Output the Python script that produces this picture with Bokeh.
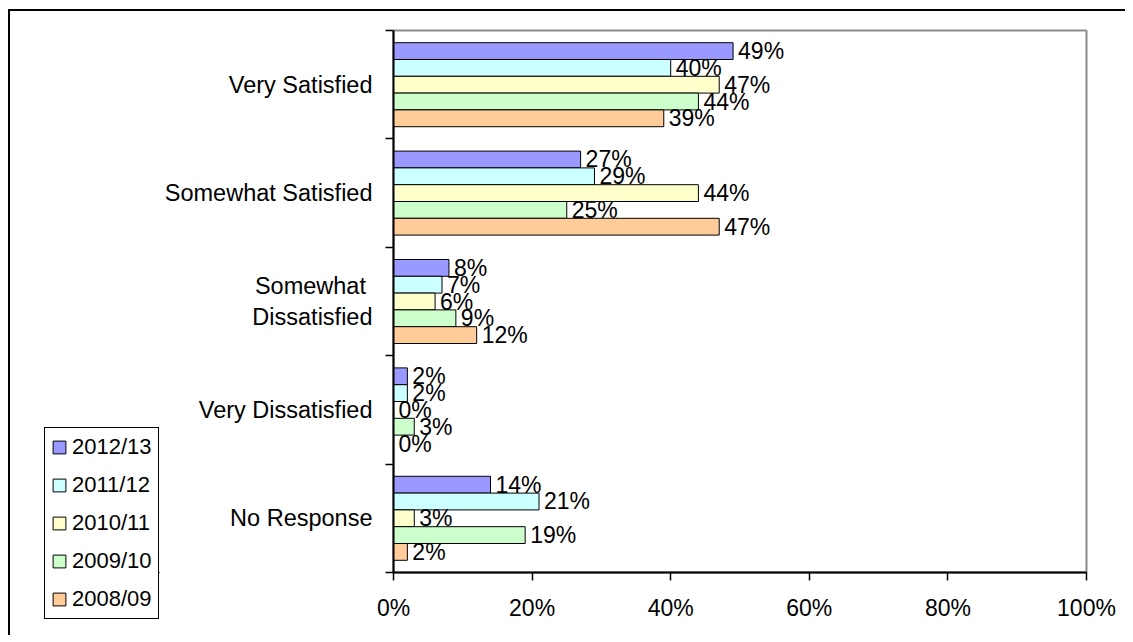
from bokeh.plotting import figure
from bokeh.layouts import row
from bokeh.embed import file_html
from bokeh.resources import INLINE
from bokeh.models import (ColumnDataSource, FixedTicker, PrintfTickFormatter,
                          Legend, LegendItem, Range1d)
from bokeh.core.properties import value

# ---- data ----
categories = ["Very Satisfied", "Somewhat Satisfied", "Somewhat \nDissatisfied",
              "Very Dissatisfied", "No Response"]
series = ["2012/13", "2011/12", "2010/11", "2009/10", "2008/09"]
v_2012_13 = [49, 27, 8, 2, 14]
v_2011_12 = [40, 29, 7, 2, 21]
v_2010_11 = [47, 44, 6, 0, 3]
v_2009_10 = [44, 25, 9, 3, 19]
v_2008_09 = [39, 47, 12, 0, 2]
values = [v_2012_13, v_2011_12, v_2010_11, v_2009_10, v_2008_09]
colors = ["#9999FF", "#CCFFFF", "#FFFFCC", "#CCFFCC", "#FFCC99"]
x_ticks = [0, 20, 40, 60, 80, 100]

FONT = "Liberation Sans"
FS = "23px"
ncat = len(categories)
bar_h = 0.155
H = 624
LW = 149          # width of the legend strip on the left
MW = 1115 - LW    # width of the main chart

# ---------------- main chart ----------------
p = figure(width=MW, height=H, output_backend="svg", toolbar_location=None,
           x_range=Range1d(0, 100), y_range=Range1d(0, ncat),
           min_border_left=234, min_border_right=39, min_border_top=19,
           min_border_bottom=63)
p.background_fill_color = "white"
p.border_fill_color = "white"
p.outline_line_color = "#8c8c8c"
p.outline_line_width = 2
p.xgrid.visible = False
p.ygrid.visible = False

sources = []
for j, (name, vals, col) in enumerate(zip(series, values, colors)):
    ys = [(ncat - 1 - i) + 0.5 + (2 - j) * bar_h for i in range(ncat)]
    src = ColumnDataSource(dict(y=ys, v=vals, lab=[f"{v}%" for v in vals]))
    sources.append(src)
    p.hbar(y="y", left=0, right="v", height=bar_h, source=src,
           fill_color=col, line_color="black", line_width=1)
    p.text(x="v", y="y", text="lab", source=src, x_offset=5,
           text_font=value(FONT), text_font_size=FS, text_color="black",
           text_align="left", text_baseline="middle")

# x axis
xa = p.xaxis[0]
xa.ticker = FixedTicker(ticks=x_ticks, minor_ticks=[])
xa.formatter = PrintfTickFormatter(format="%d%%")
xa.axis_line_color = "black"
xa.axis_line_width = 2
xa.major_tick_in = 0
xa.major_tick_out = 8
xa.major_tick_line_width = 1.5
xa.major_tick_line_color = "black"
xa.minor_tick_line_color = None
xa.major_label_standoff = 14
xa.major_label_text_font = FONT
xa.major_label_text_font_size = FS
xa.major_label_text_color = "black"

# y axis: labels at category centres, ticks at category boundaries
ya = p.yaxis[0]
centers = [i + 0.5 for i in range(ncat)]
ya.ticker = FixedTicker(ticks=centers, minor_ticks=list(range(ncat + 1)))
ya.major_label_overrides = {c: categories[ncat - 1 - i] for i, c in enumerate(centers)}
ya.axis_line_color = "black"
ya.axis_line_width = 2
ya.major_tick_in = 0
ya.major_tick_out = 0
ya.major_tick_line_color = None
ya.minor_tick_in = 0
ya.minor_tick_out = 8
ya.minor_tick_line_width = 1.5
ya.minor_tick_line_color = "black"
ya.major_label_standoff = 13
ya.major_label_text_font = FONT
ya.major_label_text_font_size = "23.5px"
ya.major_label_text_color = "black"

# ---------------- legend strip ----------------
# same series drawn again, but outside this strip's visible range: only the legend shows
lf = figure(width=LW, height=H, output_backend="svg", toolbar_location=None,
            x_range=Range1d(0, 100), y_range=Range1d(100, 101),
            x_axis_type=None, y_axis_type=None, min_border=0)
lf.outline_line_color = None
lf.background_fill_color = "white"
lf.border_fill_color = "white"
proxies = [lf.hbar(y="y", left=0, right="v", height=bar_h, source=s, fill_color=c,
                   line_color="black", line_width=1) for s, c in zip(sources, colors)]
legend = Legend(items=[LegendItem(label=s, renderers=[r]) for s, r in zip(series, proxies)],
                location=(34, -47), orientation="vertical",
                label_text_font=FONT, label_text_font_size="22px", label_text_color="black",
                glyph_width=16, glyph_height=16, label_standoff=5,
                spacing=12, padding=6, margin=0,
                border_line_color="black", border_line_width=1.5, border_line_alpha=1.0,
                background_fill_color="white", background_fill_alpha=1.0)
lf.add_layout(legend, "left")

layout = row(lf, p, spacing=0,
             styles={"margin-left": "8px", "margin-top": "9px",
                     "border-left": "2px solid black", "border-top": "2px solid black"})

open("out.html", "w").write(file_html(layout, INLINE))
